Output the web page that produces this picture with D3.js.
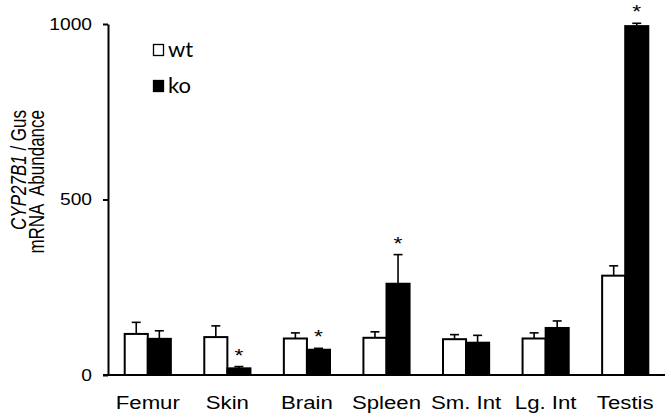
<!DOCTYPE html>
<html>
<head>
<meta charset="utf-8">
<script src="https://cdn.jsdelivr.net/npm/d3@7"></script>
<style>
  body { margin: 0; background: #fff; }
  svg text { font-family: "Liberation Sans", Arial, sans-serif; }
</style>
</head>
<body>
<script>
// data
var categories = ["Femur", "Skin", "Brain", "Spleen", "Sm. Int", "Lg. Int", "Testis"];
var groups = ["wt", "ko"];
var wtMean = [117, 108, 104, 106, 102, 104, 283];
var wtErr  = [33, 32, 16, 17, 13, 16, 28];
var koMean = [103, 19, 72, 260, 92, 134, 994];
var koErr  = [23, 5, 4, 83, 21, 20, 8];
var koSig  = [false, true, true, true, false, false, true];
var yTicks = [0, 500, 1000];

// the picture is a bit wider than tall, so text is stretched sideways
var sx = 1.2;

var width = 671, height = 420;
var svg = d3.select("body")
  .append("svg")
    .attr("width", width)
    .attr("height", height);

var x = d3.scaleBand()
  .domain(categories)
  .range([108, 665])
  .paddingInner(0.42)
  .paddingOuter(0.21);

var xSub = d3.scaleBand()
  .domain(groups)
  .range([0, x.bandwidth()]);

var y = d3.scaleLinear()
  .domain([0, 1000])
  .range([375, 24]);

// build rows from the arrays
var rows = [];
categories.forEach(function(c, i) {
  rows.push({cat: c, grp: "wt", mean: wtMean[i], err: wtErr[i], sig: false});
  rows.push({cat: c, grp: "ko", mean: koMean[i], err: koErr[i], sig: koSig[i]});
});

function cx(d) { return x(d.cat) + xSub(d.grp) + xSub.bandwidth() / 2; }

// error bars (drawn first so the bar covers the lower end)
var eb = svg.append("g").attr("stroke", "#000").attr("stroke-width", 1.6);
eb.selectAll("line.v")
  .data(rows)
  .enter().append("line")
    .attr("x1", cx)
    .attr("x2", cx)
    .attr("y1", function(d) { return y(d.mean); })
    .attr("y2", function(d) { return y(d.mean + d.err); });
eb.selectAll("line.h")
  .data(rows)
  .enter().append("line")
    .attr("x1", function(d) { return cx(d) - 4.5; })
    .attr("x2", function(d) { return cx(d) + 4.5; })
    .attr("y1", function(d) { return y(d.mean + d.err); })
    .attr("y2", function(d) { return y(d.mean + d.err); });

// bars
svg.append("g")
  .selectAll("rect")
  .data(rows)
  .enter().append("rect")
    .attr("x", function(d) { return x(d.cat) + xSub(d.grp); })
    .attr("y", function(d) { return y(d.mean); })
    .attr("width", xSub.bandwidth())
    .attr("height", function(d) { return y(0) - y(d.mean); })
    .attr("fill", function(d) { return d.grp == "wt" ? "#fff" : "#000"; })
    .attr("stroke", "#000")
    .attr("stroke-width", 2);

// significance stars
svg.append("g")
  .selectAll("text")
  .data(rows.filter(function(d) { return d.sig; }))
  .enter().append("text")
    .attr("transform", function(d) {
      return "translate(" + cx(d) + "," + (y(d.mean + d.err) - 5) + ") scale(" + sx + ",1)";
    })
    .attr("text-anchor", "middle")
    .attr("font-size", 19)
    .text("*");

// Y axis
var yAxis = svg.append("g")
  .attr("transform", "translate(108,0)")
  .call(d3.axisLeft(y).tickValues(yTicks).tickFormat(d3.format("d"))
    .tickSize(5).tickSizeOuter(0).tickPadding(11));
yAxis.select(".domain").attr("stroke-width", 2);
yAxis.selectAll(".tick line").attr("stroke-width", 2);
yAxis.selectAll(".tick text")
  .attr("font-size", 16)
  .attr("font-family", "Liberation Sans, Arial, sans-serif")
  .attr("fill", "#000")
  .attr("transform", "scale(" + sx + ",1)")
  .attr("x", -16 / sx);

// X axis (no ticks)
var xAxis = svg.append("g")
  .attr("transform", "translate(0,375)")
  .call(d3.axisBottom(x).tickSize(0).tickSizeOuter(0).tickPadding(0));
xAxis.select(".domain")
  .attr("d", "M103,0H665")
  .attr("stroke-width", 2);
xAxis.selectAll(".tick text").remove();
xAxis.selectAll(".tick")
  .append("text")
    .attr("transform", "translate(0,34) scale(" + sx + ",1)")
    .attr("text-anchor", "middle")
    .attr("font-size", 18.5)
    .attr("font-family", "Liberation Sans, Arial, sans-serif")
    .attr("fill", "#000")
    .text(function(d) { return d; });

// Y axis title, two lines
var t1 = svg.append("text")
  .attr("transform", "translate(26,110) scale(1.3,1) rotate(-90)")
  .attr("text-anchor", "end")
  .attr("font-size", 17);
t1.append("tspan").attr("font-style", "italic").text("CYP27B1");
t1.append("tspan").text(" / Gus");
svg.append("text")
  .attr("transform", "translate(44,110) scale(1.3,1) rotate(-90)")
  .attr("text-anchor", "end")
  .attr("font-size", 17)
  .attr("xml:space", "preserve")
  .text("mRNA  Abundance");

// legend
var legend = svg.append("g").attr("transform", "translate(153,44)");
groups.forEach(function(g, i) {
  legend.append("rect")
    .attr("x", 0.5)
    .attr("y", i * 36 + 0.5)
    .attr("width", 10)
    .attr("height", 11)
    .attr("fill", g == "wt" ? "#fff" : "#000")
    .attr("stroke", "#000")
    .attr("stroke-width", 1.3);
  legend.append("text")
    .attr("x", 15)
    .attr("y", i * 36 + 12.5)
    .attr("font-size", 22)
    .style("font-family", "Lato, 'Open Sans', sans-serif")
    .text(g);
});
</script>
</body>
</html>
